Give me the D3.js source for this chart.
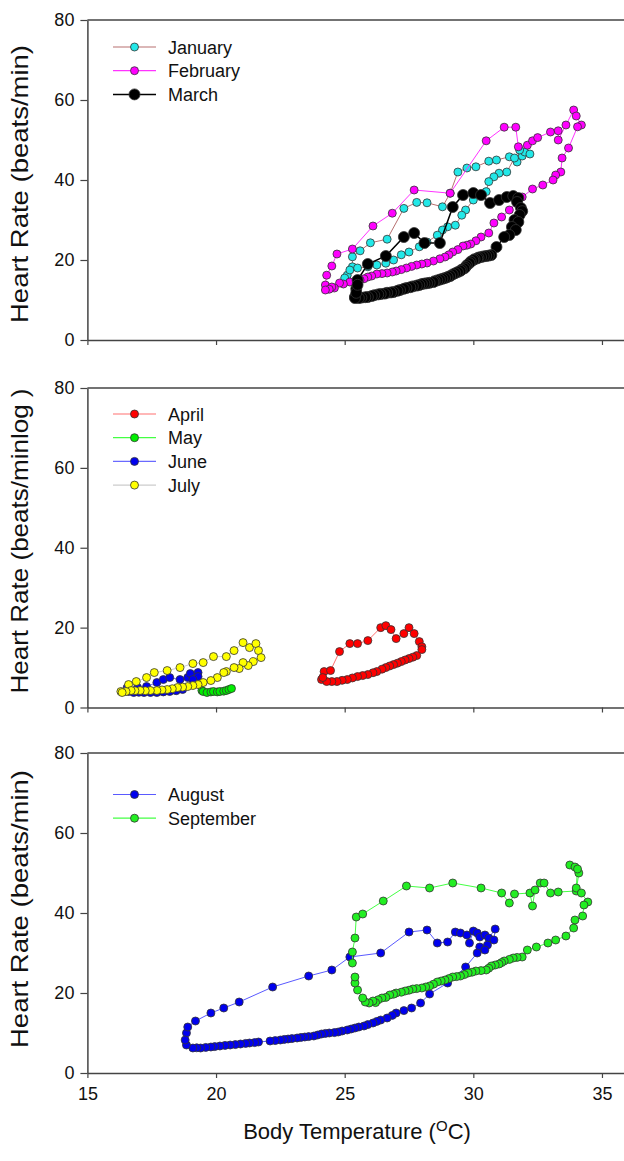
<!DOCTYPE html>
<html>
<head>
<meta charset="utf-8">
<script src="https://cdn.jsdelivr.net/npm/d3@7"></script>
<style>
  body { margin: 0; background: #fff; }
  svg { display: block; font-family: "Liberation Sans", Arial, sans-serif; }
</style>
</head>
<body>
<svg width="624" height="1161"></svg>
<script>
// ---- data: [body temperature (C), heart rate (beats/min)] ----
const january = [[25.1,16.2],[25.3,18.3],[25.3,20.8],[25.6,22.3],[26.0,24.3],[26.65,25.2],[27.3,32.9],[27.8,34.4],[28.2,34.3],[28.8,33.3],[29.1,36.7],[29.4,42],[29.75,43],[30.1,43.3],[30.6,44.7],[30.9,45],[31.4,45.8],[31.7,44.5],[31.9,46],[32.0,47],[32.2,46.5],[31.8,47.5],[31.6,45.5],[31.3,42],[31.0,41.7],[30.8,40.8],[30.6,39.6],[30.5,37.1],[30.0,35],[29.7,32.5],[29.55,31.2],[29.3,28.7],[29.0,28.3],[28.8,27.5],[28.6,26.2],[28.2,24.5],[27.9,23.3],[27.5,22],[27.2,21.3],[26.9,20],[26.6,19.2],[26.25,18.75],[25.9,18.3],[25.5,18],[25.2,17.5],[25.0,15.5]];
const february = [[24.25,13.75],[24.3,16.2],[24.5,18.5],[24.7,21.5],[25.3,22.75],[26.1,28.5],[26.85,31.7],[27.7,37.5],[29.1,36.7],[30.5,49.8],[31.2,53.2],[31.65,53.2],[31.75,48.3],[32.1,48.7],[32.3,49.8],[32.5,50.6],[33.0,52],[33.3,52.3],[33.3,50],[33.6,53.75],[33.9,57.5],[34.0,56],[34.2,53.75],[34.05,53.3],[33.7,48],[33.45,45.5],[33.4,42],[33.2,41.25],[33.1,40],[32.7,38.75],[32.3,37.75],[31.9,35.75],[31.4,32.5],[31.1,30.75],[30.8,29.25],[30.6,26.75],[30.3,25.75],[30.1,24.8],[29.9,24],[29.75,23.7],[29.6,23.5],[29.4,22.6],[29.2,22],[29.05,21.3],[28.9,20.75],[28.7,20.3],[28.45,19.75],[28.2,19.25],[28.0,19.0],[27.8,18.75],[27.6,18.4],[27.4,18],[27.2,17.6],[27.0,17.25],[26.85,17.0],[26.65,16.75],[26.45,16.6],[26.25,16.5],[26.05,16.0],[25.9,15.75],[25.75,15.3],[25.6,15],[25.4,14.6],[25.2,14.5],[24.95,14.0],[24.8,14.25],[24.6,13.0],[24.5,13.25],[24.4,12.7],[24.25,12.5]];
const march = [[25.4,10.75],[25.45,12.8],[25.5,15],[25.9,19],[26.6,21],[27.3,25.75],[27.7,26.75],[28.1,24.25],[28.7,24.25],[29.2,33.25],[29.6,36.25],[30.0,36.75],[30.3,36.25],[30.65,34.25],[31.0,35],[31.3,35.75],[31.55,36],[31.75,35.5],[31.7,34.5],[31.85,33],[31.9,32.2],[31.8,31.25],[31.6,30],[31.75,29.5],[31.5,28.25],[31.65,27.5],[31.4,26.25],[31.2,25.75],[30.9,23.25],[30.7,21.25],[30.6,21.1],[30.5,21.0],[30.4,20.9],[30.3,20.75],[30.2,20.6],[30.15,20.4],[30.05,20.2],[30.0,20],[29.9,19.6],[29.85,19.2],[29.75,18.7],[29.7,18.25],[29.65,17.9],[29.55,17.6],[29.5,17.3],[29.4,17],[29.3,16.7],[29.2,16.4],[29.1,16.0],[29.0,15.75],[28.9,15.5],[28.8,15.3],[28.7,15.1],[28.6,14.9],[28.5,14.7],[28.45,14.5],[28.3,14.3],[28.2,14.2],[28.1,14.1],[28.0,14.0],[27.9,13.75],[27.8,13.6],[27.65,13.4],[27.55,13.2],[27.4,13],[27.3,12.8],[27.15,12.5],[27.05,12.3],[26.9,12],[26.8,11.9],[26.65,11.8],[26.55,11.6],[26.4,11.5],[26.3,11.4],[26.15,11.2],[26.05,11.0],[25.9,10.75],[25.8,10.7],[25.65,10.6],[25.55,10.5],[25.4,10.5],[25.45,11.8],[25.5,13.8]];

const april = [[24.1,7],[24.2,9],[24.45,9.25],[24.8,14],[25.2,16],[25.5,16],[25.9,16.75],[26.4,20],[26.6,20.5],[26.8,19.5],[27.0,17.25],[27.3,18.5],[27.5,20],[27.7,18.5],[27.9,16.5],[28.0,15.2],[28.0,14.5],[27.8,13],[27.65,12.6],[27.5,12.25],[27.35,11.9],[27.2,11.5],[27.05,11.1],[26.9,10.75],[26.75,10.4],[26.6,10],[26.45,9.6],[26.25,9],[26.1,8.7],[25.9,8.25],[25.7,8.0],[25.5,7.75],[25.3,7.4],[25.1,7],[24.9,6.8],[24.7,6.5],[24.5,6.5],[24.3,6.5],[24.15,7.5]];
const may = [[19.45,4.25],[19.5,4],[19.65,3.75],[19.8,3.9],[19.9,4],[20.05,3.9],[20.15,4],[20.3,4.1],[20.4,4.25],[20.5,4.5],[20.6,4.75]];
const june = [[16.55,5],[16.95,5],[17.3,5.25],[17.7,6.25],[17.95,7],[18.2,7.5],[18.6,7],[18.9,7.5],[19.0,8.5],[19.3,8.75],[19.3,7.75],[19.1,7],[18.7,4.5],[18.45,4.2],[18.2,4],[17.95,3.9],[17.7,3.75],[17.45,3.75],[17.2,3.75],[17.0,3.8],[16.8,3.75],[16.6,4.0]];
const july = [[16.3,4],[16.6,5.75],[16.9,6.5],[17.3,7.5],[17.6,8.75],[18.1,9.25],[18.6,10],[19.1,11],[19.5,11.25],[19.9,12.75],[20.4,12.75],[20.7,14.25],[21.05,16.25],[21.3,15],[21.55,16],[21.65,14.25],[21.75,12.5],[21.45,11.5],[21.25,10.5],[21.05,11.25],[20.9,9.75],[20.7,10],[20.4,9],[20.3,8.75],[20.05,7.5],[19.8,6.75],[19.5,6.25],[19.3,5.75],[19.1,5.5],[18.9,5.25],[18.7,5.1],[18.5,5],[18.3,4.7],[18.1,4.5],[17.9,4.4],[17.7,4.25],[17.45,4.25],[17.25,4.2],[17.05,4.25],[16.85,4.2],[16.7,4.25],[16.5,4.0],[16.35,3.75]];

const august = [[18.85,10.0],[18.9,11.5],[19.2,13.0],[19.8,15.0],[20.3,16.25],[20.9,17.75],[22.2,21.5],[23.6,24.25],[24.5,25.75],[25.2,29.0],[26.4,30.0],[27.5,35.25],[28.2,35.75],[28.6,32.5],[29.0,32.75],[29.3,35.25],[29.5,35.0],[29.75,34.5],[29.85,32.5],[30.0,35.5],[30.15,35.0],[30.25,34.0],[30.45,34.5],[30.6,33.75],[30.85,36.0],[30.8,33.25],[30.55,32.0],[30.25,31.5],[30.45,30.75],[30.15,30.0],[29.7,26.5],[29.0,22.5],[28.3,19.75],[27.95,17.5],[27.6,16.25],[27.3,15.6],[27.0,15.0],[26.85,14.4],[26.65,13.75],[26.4,13.25],[26.25,12.9],[26.1,12.5],[25.9,12.1],[25.75,11.75],[25.55,11.5],[25.4,11.25],[25.25,11.0],[25.1,10.75],[24.9,10.5],[24.75,10.25],[24.6,10.1],[24.4,10.0],[24.25,9.9],[24.1,9.75],[23.95,9.5],[23.8,9.25],[23.6,9.1],[23.45,9.0],[23.3,8.9],[23.15,8.75],[22.95,8.6],[22.8,8.5],[22.65,8.4],[22.5,8.25],[22.3,8.1],[22.1,8.0],[21.65,7.75],[21.5,7.6],[21.3,7.5],[21.15,7.4],[20.95,7.25],[20.75,7.1],[20.55,7.0],[20.35,6.9],[20.15,6.75],[19.95,6.6],[19.8,6.5],[19.6,6.4],[19.4,6.25],[19.25,6.3],[19.1,6.25],[18.85,7.0],[18.8,8.25]];
const september = [[25.3,27.5],[25.3,30.25],[25.4,33.75],[25.45,39.0],[25.7,39.75],[26.5,43.0],[27.4,46.75],[28.3,46.25],[29.2,47.5],[30.3,46.25],[31.1,45.0],[31.4,42.5],[31.6,44.75],[32.2,45.0],[32.3,41.75],[32.4,45.75],[32.6,47.5],[32.75,47.5],[33.0,45.0],[33.3,45.25],[34.0,45.5],[34.1,50.0],[33.75,52.0],[33.95,51.5],[34.05,51.0],[34.0,46.25],[34.2,45.0],[34.45,42.75],[34.3,42.0],[34.25,39.25],[33.95,38.25],[33.9,36.25],[33.6,34.25],[33.2,33.25],[32.9,32.5],[32.45,31.5],[32.1,30.75],[31.9,29.0],[31.7,28.9],[31.55,28.75],[31.4,28.4],[31.2,28.0],[31.1,27.6],[31.0,27.25],[30.85,27.0],[30.7,26.75],[30.6,26.2],[30.5,25.75],[30.3,25.6],[30.1,25.5],[29.95,25.2],[29.8,25.0],[29.65,24.6],[29.5,24.25],[29.35,24.1],[29.2,24.0],[29.05,23.6],[28.9,23.25],[28.75,23.0],[28.6,22.75],[28.45,22.2],[28.3,21.75],[28.15,21.5],[28.0,21.25],[27.8,21.1],[27.65,21.0],[27.5,20.7],[27.35,20.5],[27.2,20.2],[27.0,20.0],[26.9,19.7],[26.75,19.5],[26.6,18.9],[26.45,18.75],[26.3,18.3],[26.2,17.6],[26.1,18.0],[25.95,17.5],[25.8,17.75],[25.7,18.75],[25.5,20.75],[25.4,22.5],[25.4,24.0]];

const xTicks = [15, 20, 25, 30, 35];
const yTicks = [0, 20, 40, 60, 80];

// panels: series in drawing order
const panels = [
  { top: 20, bottom: 340, title: "Heart Rate (beats/min)", titleY: 184, titleLen: 278, legendY: 47, series: [
    { name: "January", data: january, fill: "#22e8e8", line: "#b77070", r: 4 },
    { name: "February", data: february, fill: "#ff00ff", line: "#ff33ff", r: 4 },
    { name: "March", data: march, fill: "#000000", line: "#000000", r: 5.5, lw: 1.5 }
  ]},
  { top: 388, bottom: 707.5, title: "Heart Rate (beats/minlog )", titleY: 541, titleLen: 305, legendY: 414, series: [
    { name: "April", data: april, fill: "#ff0000", line: "#ff7070", r: 4 },
    { name: "May", data: may, fill: "#00ee00", line: "#44ff44", r: 4 },
    { name: "June", data: june, fill: "#0000ee", line: "#6a6aff", r: 4 },
    { name: "July", data: july, fill: "#ffff00", line: "#cccccc", r: 4 }
  ]},
  { top: 753, bottom: 1073, title: "Heart Rate (beats/min)", titleY: 909, titleLen: 278, legendY: 794.5, series: [
    { name: "August", data: august, fill: "#0000ee", line: "#5a5aff", r: 4 },
    { name: "September", data: september, fill: "#22ee22", line: "#44ff44", r: 4 }
  ]}
];

const svg = d3.select("svg");
const x = d3.scaleLinear().domain([15, 36]).range([87.4, 627.7]);
const axisColor = "#444";

panels.forEach((p, pi) => {
  const y = d3.scaleLinear().domain([0, 80]).range([p.bottom, p.top]);
  const g = svg.append("g");
  const last = pi === panels.length - 1;

  // top frame line
  g.append("line")
    .attr("x1", x(15)).attr("x2", 624)
    .attr("y1", y(80)).attr("y2", y(80))
    .attr("stroke", axisColor).attr("stroke-width", 1.5);

  // y axis
  const ya = g.append("g")
    .attr("transform", `translate(${x(15)},0)`)
    .call(d3.axisLeft(y).tickValues(yTicks).tickSize(7).tickSizeOuter(0).tickPadding(6));
  // x axis
  const xa = g.append("g")
    .attr("transform", `translate(0,${y(0)})`)
    .call(d3.axisBottom(x).tickValues(xTicks).tickSize(5).tickSizeOuter(0).tickPadding(9)
      .tickFormat(last ? d3.format("d") : () => ""));
  [ya, xa].forEach(a => {
    a.select(".domain").attr("stroke", axisColor).attr("stroke-width", 1.5);
    a.selectAll(".tick line").attr("stroke", axisColor).attr("stroke-width", 1.2);
    a.selectAll(".tick text").attr("fill", "#111").style("font-size", "18px")
      .style("font-family", "'Liberation Sans', Arial, sans-serif");
  });

  // y title
  g.append("text")
    .attr("transform", `translate(28,${p.titleY}) rotate(-90)`)
    .attr("text-anchor", "middle")
    .attr("fill", "#111")
    .attr("textLength", p.titleLen)
    .attr("lengthAdjust", "spacingAndGlyphs")
    .style("font-size", "24px")
    .text(p.title);

  // series
  const line = d3.line().x(d => x(d[0])).y(d => y(d[1]));
  p.series.forEach(s => {
    g.append("path")
      .datum(s.data)
      .attr("d", line)
      .attr("fill", "none")
      .attr("stroke", s.line)
      .attr("stroke-width", s.lw || 1);
    g.append("g").selectAll("circle")
      .data(s.data)
      .enter()
      .append("circle")
      .attr("cx", d => x(d[0]))
      .attr("cy", d => y(d[1]))
      .attr("r", s.r)
      .attr("fill", s.fill)
      .attr("stroke", "#333")
      .attr("stroke-width", 0.8);
  });

  // legend
  const lg = g.append("g");
  p.series.forEach((s, i) => {
    const ly = p.legendY + i * 23.7;
    lg.append("line")
      .attr("x1", 113).attr("x2", 156)
      .attr("y1", ly).attr("y2", ly)
      .attr("stroke", s.line).attr("stroke-width", s.lw || 1.2);
    lg.append("circle")
      .attr("cx", 134.5).attr("cy", ly).attr("r", s.r)
      .attr("fill", s.fill).attr("stroke", "#333").attr("stroke-width", 0.8);
    lg.append("text")
      .attr("x", 168).attr("y", ly + 6.5)
      .attr("fill", "#111")
      .style("font-size", "18px")
      .text(s.name);
  });
});

// x title
const xt = svg.append("text")
  .attr("x", 357).attr("y", 1139)
  .attr("text-anchor", "middle")
  .attr("fill", "#111")
  .style("font-size", "22px");
xt.append("tspan").text("Body Temperature (");
xt.append("tspan").attr("dy", -8).style("font-size", "15px").text("O");
xt.append("tspan").attr("dy", 8).text("C)");
</script>
</body>
</html>
